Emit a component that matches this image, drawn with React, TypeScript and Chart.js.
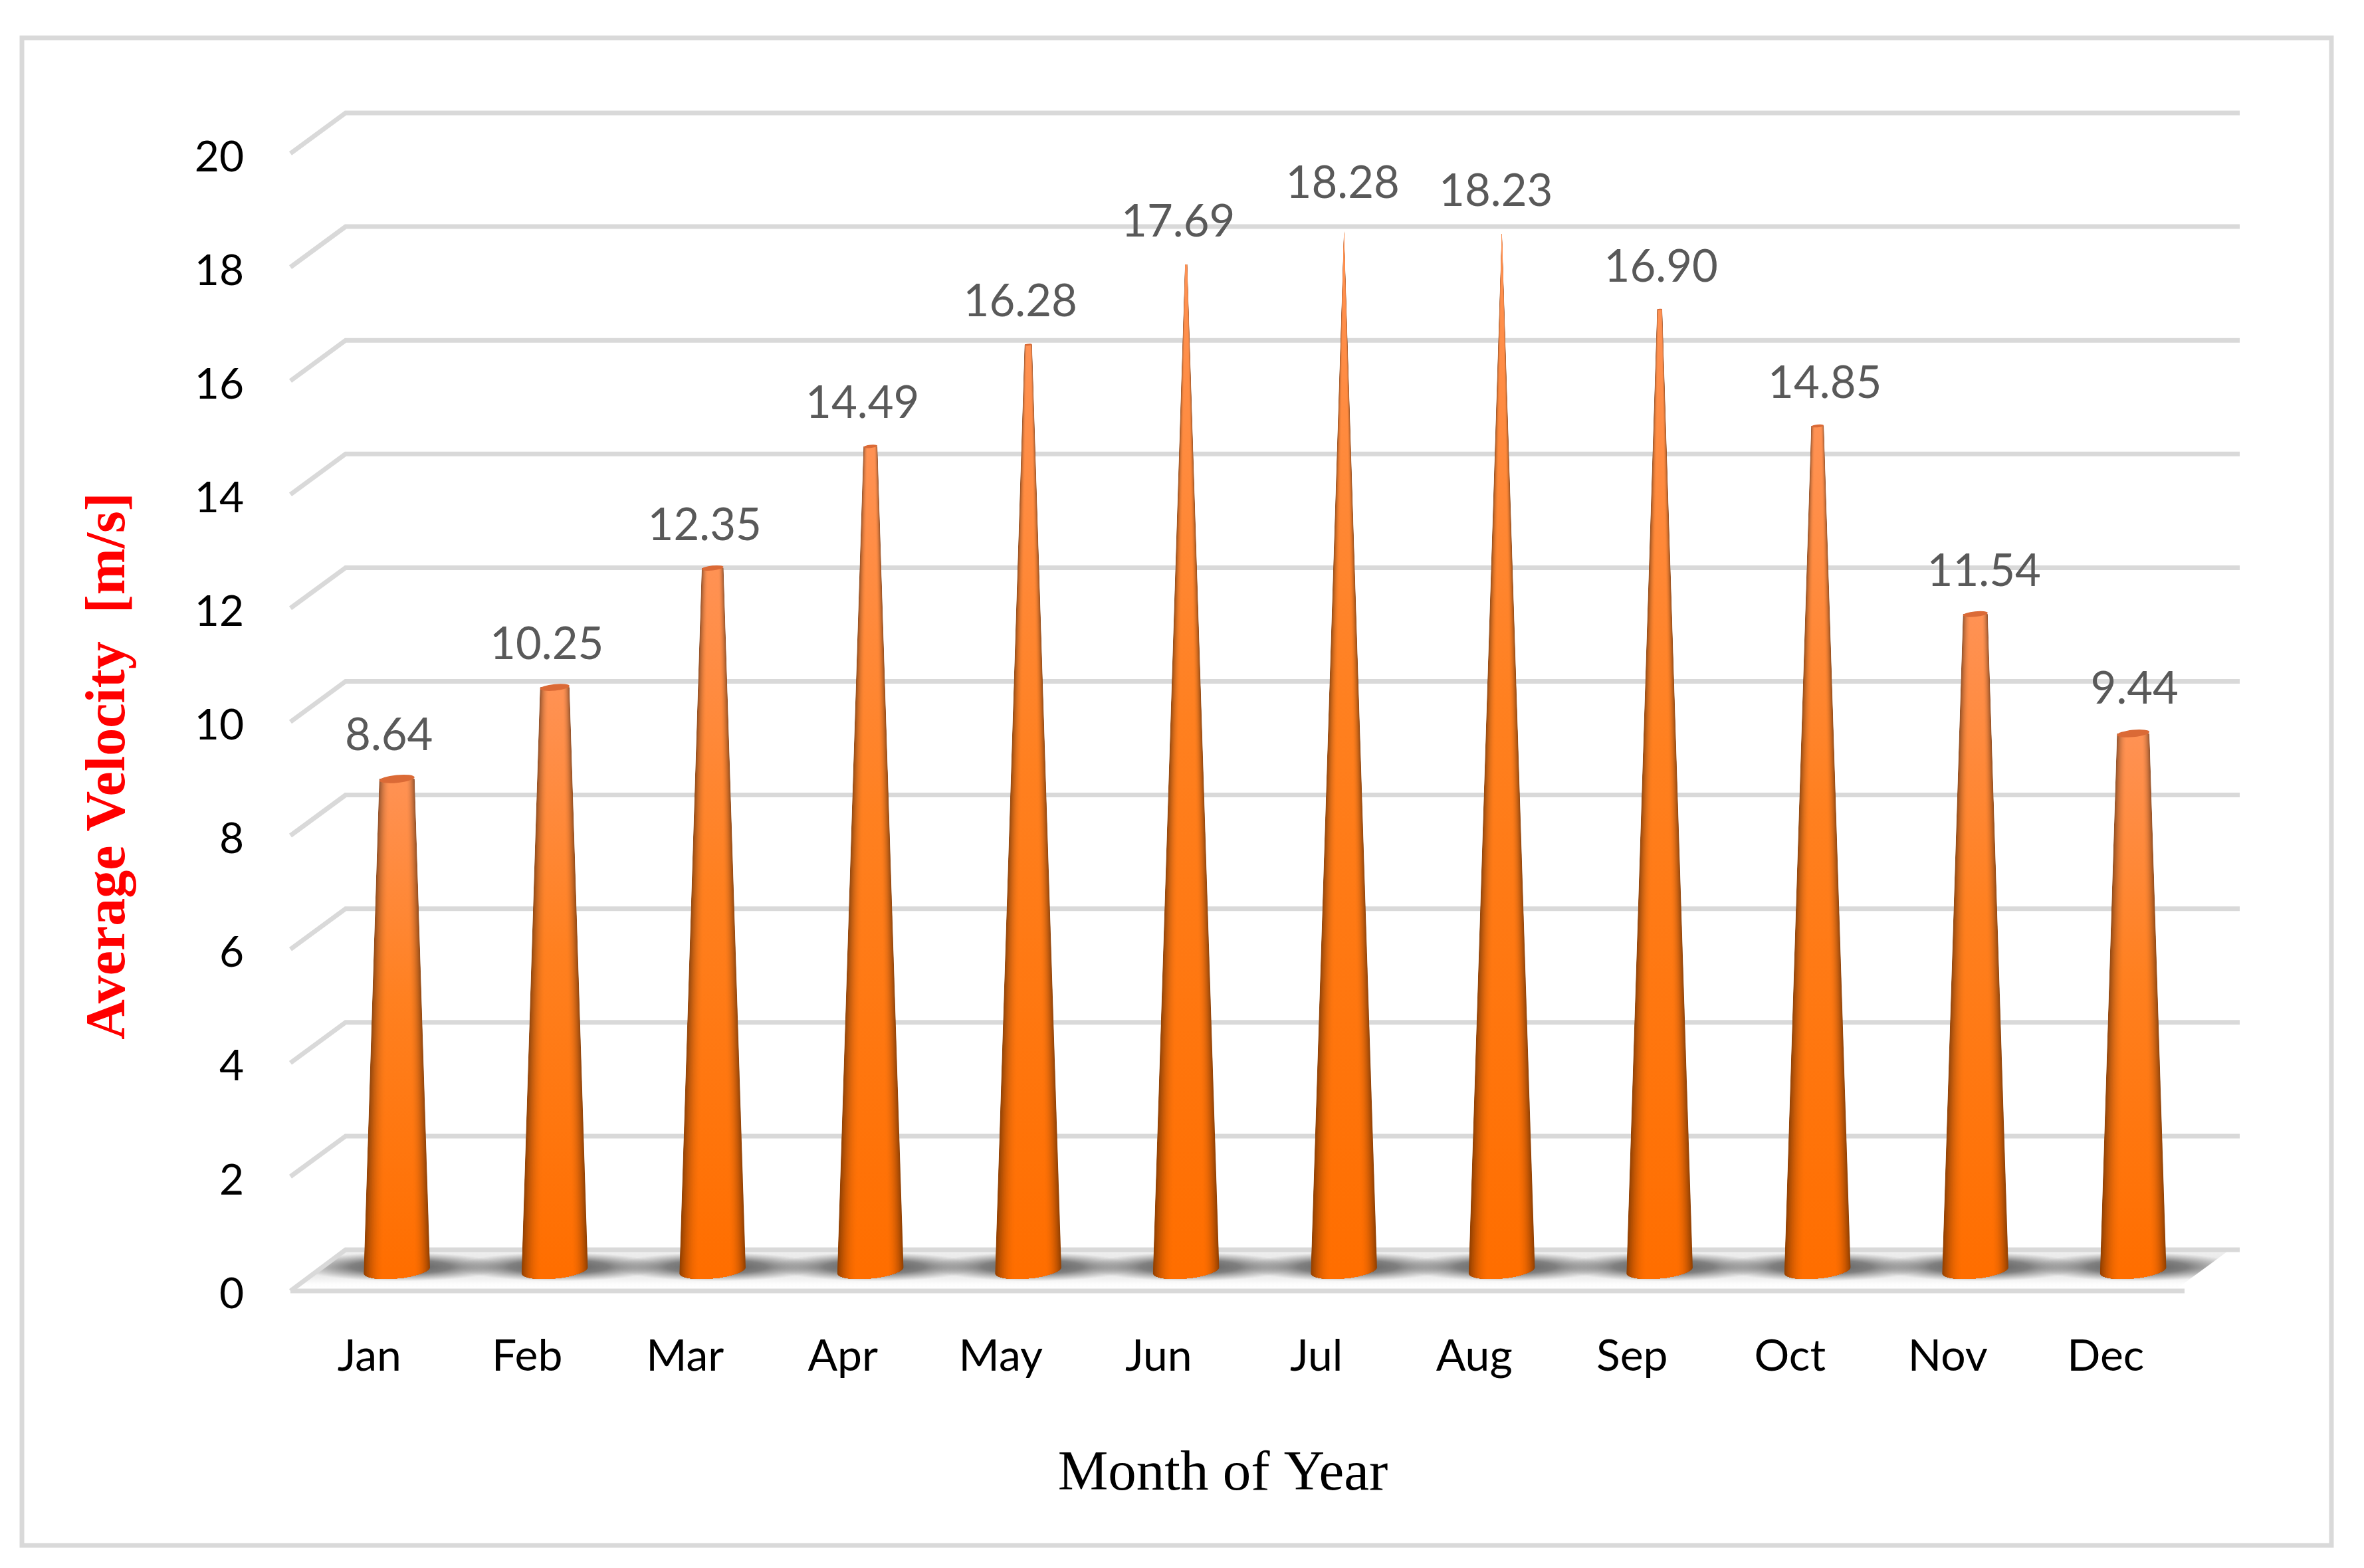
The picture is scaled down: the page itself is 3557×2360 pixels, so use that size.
import React, { useEffect, useRef } from "react";
import { Chart, registerables } from "chart.js";

Chart.register(...registerables);

const months = ["Jan", "Feb", "Mar", "Apr", "May", "Jun", "Jul", "Aug", "Sep", "Oct", "Nov", "Dec"];
const velocity = [8.64, 10.25, 12.35, 14.49, 16.28, 17.69, 18.28, 18.23, 16.9, 14.85, 11.54, 9.44];
const yTitle = "Average Velocity  [m/s]";
const xTitle = "Month of Year";

const W = 3557;
const H = 2360;
const DX = 83;
const DY = -61;
const LINE = "#D9D9D9";
const labelNudgeX = [-12, -12, -12, -12, -12, -12, -2, -9, 2, 11, 13, 2];
const labelNudgeY = [3, 4, 4, 4, 4, 4, -3, 4, 5, 4, 4, 1];

function mul(hex: number[], s: number) {
  return `rgb(${hex.map((c) => Math.round(c * s)).join(",")})`;
}

function drawCone(ctx: CanvasRenderingContext2D, cx: number, topY: number, baseY: number, rb: number, rt: number) {
  const ryB = rb * 0.25;
  const ryT = Math.max(rt * 0.22, 0.01);
  const tilt = -0.1;
  const sinT = Math.sin(tilt) * rb;
  ctx.save();
  ctx.beginPath();
  ctx.moveTo(cx - rt, topY);
  ctx.lineTo(cx + rt, topY);
  ctx.lineTo(cx + rb * Math.cos(tilt), baseY + sinT);
  ctx.ellipse(cx, baseY, rb, ryB, tilt, 0, Math.PI, false);
  ctx.closePath();
  ctx.clip();
  const N = 36;
  for (let k = 0; k <= N; k++) {
    const f = k / N;
    const tl = f * 0.55;
    const tr = 1 - f * 0.45;
    const u = Math.min(1, f * 1.8);
    const s = 0.58 + 0.42 * u * (2 - u);
    const g = ctx.createLinearGradient(0, topY, 0, baseY);
    g.addColorStop(0, mul([255, 146, 84], s));
    g.addColorStop(0.45, mul([255, 128, 32], s));
    g.addColorStop(1, mul([255, 110, 0], s));
    ctx.fillStyle = g;
    ctx.beginPath();
    ctx.moveTo(cx + (2 * tl - 1) * rt, topY - 1);
    ctx.lineTo(cx + (2 * tr - 1) * rt, topY - 1);
    ctx.lineTo(cx + (2 * tr - 1) * rb, baseY + ryB + 8);
    ctx.lineTo(cx + (2 * tl - 1) * rb, baseY + ryB + 8);
    ctx.closePath();
    ctx.fill();
  }
  ctx.restore();
  if (rt > 2) {
    ctx.fillStyle = "#DB6A36";
    ctx.beginPath();
    ctx.ellipse(cx, topY, rt, ryT, tilt, 0, Math.PI * 2);
    ctx.fill();
  }
}

const scenePlugin = {
  id: "scene",
  beforeDatasetsDraw(chart: any) {
    const { ctx, scales, chartArea } = chart;
    const y = scales.y;
    const L = chartArea.left;
    const R = chartArea.right;
    const y0 = y.getPixelForValue(0);
    ctx.save();
    // outer frame
    ctx.strokeStyle = LINE;
    ctx.lineWidth = 7;
    ctx.strokeRect(33, 57, 3475, 2269);
    // walls
    ctx.lineJoin = "miter";
    y.ticks.forEach((t: any) => {
      if (t.value === 0) return;
      const py = y.getPixelForValue(t.value);
      ctx.beginPath();
      ctx.moveTo(L, py);
      ctx.lineTo(L + DX, py + DY);
      ctx.lineTo(R + DX, py + DY);
      ctx.stroke();
    });
    // floor
    ctx.save();
    ctx.beginPath();
    ctx.moveTo(L, y0);
    ctx.lineTo(R - 15, y0);
    ctx.lineTo(R + DX - 15, y0 + DY);
    ctx.lineTo(L + DX, y0 + DY);
    ctx.closePath();
    ctx.clip();
    const fl = ctx.createLinearGradient(0, y0 + DY, 0, y0);
    fl.addColorStop(0, "#F0F0F0");
    fl.addColorStop(0.2, "#EAEAEA");
    fl.addColorStop(0.45, "#DEDEDE");
    fl.addColorStop(0.7, "#EFEFEF");
    fl.addColorStop(0.85, "#FDFDFD");
    fl.addColorStop(1, "#FFFFFF");
    ctx.fillStyle = fl;
    ctx.fillRect(L, y0 + DY, R - L + DX, -DY);
    const meta = chart.getDatasetMeta(0);
    meta.data.forEach((el: any) => {
      const cx = el.x + DX / 2;
      const cy = y0 + DY * 0.58;
      ctx.save();
      ctx.translate(cx + 6, cy);
      ctx.scale(1, 0.14);
      const g = ctx.createRadialGradient(0, 0, 10, 0, 0, 155);
      g.addColorStop(0, "rgba(80,80,80,0.9)");
      g.addColorStop(0.45, "rgba(90,90,90,0.72)");
      g.addColorStop(1, "rgba(120,120,120,0)");
      ctx.fillStyle = g;
      ctx.beginPath();
      ctx.arc(0, 0, 155, 0, Math.PI * 2);
      ctx.fill();
      ctx.restore();
    });
    ctx.restore();
    // floor edges
    ctx.beginPath();
    ctx.moveTo(L, y0 + 1);
    ctx.lineTo(L + DX, y0 + DY);
    ctx.lineTo(R + DX, y0 + DY);
    ctx.stroke();
    ctx.beginPath();
    ctx.moveTo(L, y0 + 1);
    ctx.lineTo(R, y0 + 1);
    ctx.stroke();
    ctx.restore();
  },
  beforeDatasetDraw(chart: any) {
    const { ctx } = chart;
    const meta = chart.getDatasetMeta(0);
    const peak = Math.max(...velocity);
    meta.data.forEach((el: any, i: number) => {
      const rb = el.width / 2;
      const rt = rb * (1 - velocity[i] / peak);
      drawCone(ctx, el.x + DX / 2, el.y + DY / 2, el.base + DY / 2, rb, rt);
    });
    return false;
  },
  afterDatasetsDraw(chart: any) {
    const { ctx } = chart;
    const meta = chart.getDatasetMeta(0);
    ctx.save();
    ctx.fillStyle = "#595959";
    ctx.font = "67px Lato";
    ctx.textAlign = "center";
    ctx.textBaseline = "middle";
    meta.data.forEach((el: any, i: number) => {
      ctx.fillText(velocity[i].toFixed(2), el.x + DX / 2 + labelNudgeX[i], el.y + DY / 2 - 68 + labelNudgeY[i]);
    });
    ctx.fillStyle = "#000000";
    ctx.font = "85px 'Liberation Serif'";
    ctx.fillText(xTitle, 1840, 2220);
    ctx.translate(165, 1153);
    ctx.rotate(-Math.PI / 2);
    ctx.fillStyle = "#FF0000";
    ctx.font = "bold 84px 'Liberation Serif'";
    ctx.fillText(yTitle, 0, 0);
    ctx.restore();
  },
};

export default function App() {
  const ref = useRef<HTMLCanvasElement>(null);
  useEffect(() => {
    const chart = new Chart(ref.current as HTMLCanvasElement, {
      type: "bar",
      data: {
        labels: months,
        datasets: [
          {
            label: "Average Velocity",
            data: velocity,
            backgroundColor: "#FF7A10",
            categoryPercentage: 1,
            barPercentage: 0.425,
          },
        ],
      },
      options: {
        responsive: false,
        animation: false,
        devicePixelRatio: 1,
        layout: { padding: { top: 231, right: 270, left: 0, bottom: 0 } },
        plugins: { legend: { display: false }, title: { display: false }, tooltip: { enabled: false } },
        scales: {
          x: {
            grid: { display: false, drawTicks: false },
            border: { display: false },
            ticks: { color: "#000000", font: { family: "Lato", size: 66 }, padding: 60, maxRotation: 0 },
            afterFit(s: any) {
              s.height = 418;
            },
          },
          y: {
            min: 0,
            max: 20,
            grid: { display: false, drawTicks: false },
            border: { display: false },
            ticks: { stepSize: 2, color: "#000000", font: { family: "Lato", size: 64 }, padding: 70, labelOffset: 6 },
            afterFit(s: any) {
              s.width = 437;
            },
          },
        },
      },
      plugins: [scenePlugin],
    } as any);
    return () => chart.destroy();
  }, []);
  return (
    <canvas
      ref={ref}
      width={W}
      height={H}
      style={{ position: "fixed", left: 0, top: 0, width: W, height: H, display: "block", background: "#FFFFFF" }}
    />
  );
}
